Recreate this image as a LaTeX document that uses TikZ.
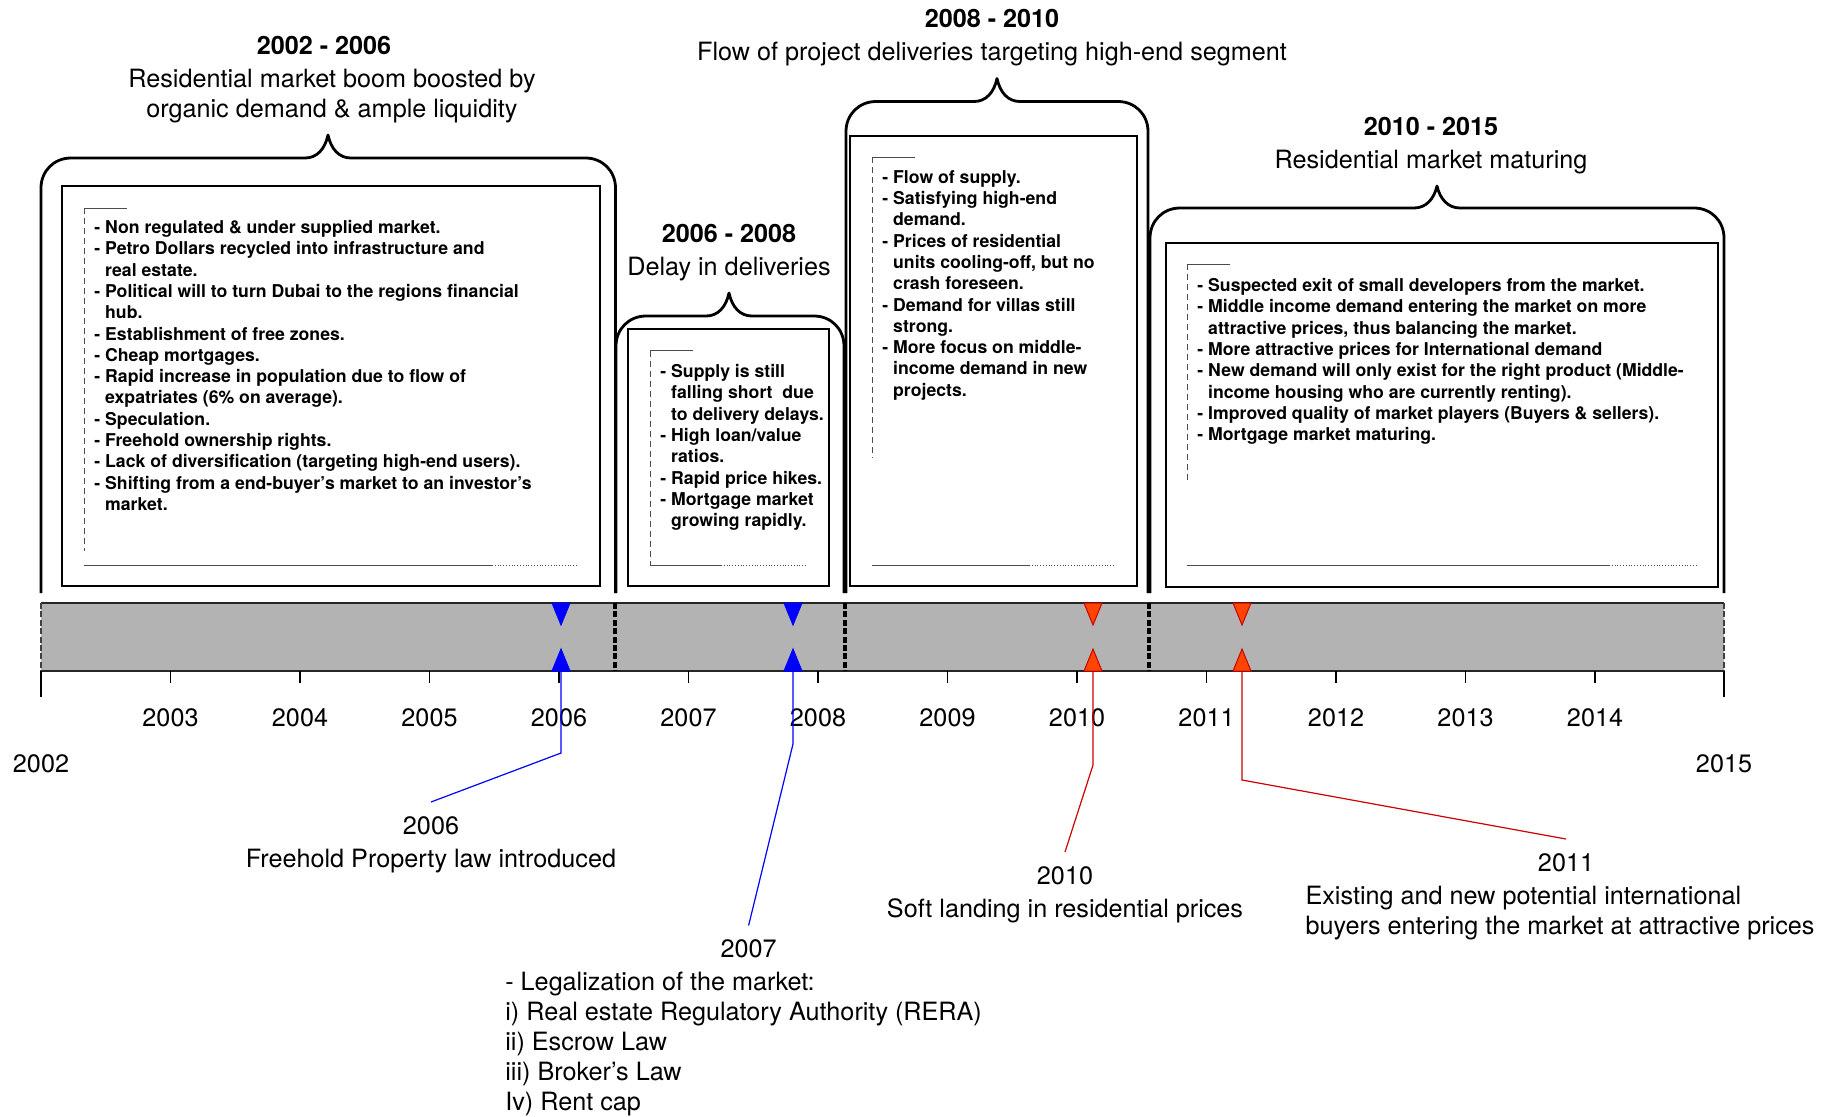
\documentclass[tikz,border=0pt]{standalone}
\usepackage{fontspec}
\setmainfont{TeX Gyre Heros}
\usetikzlibrary{positioning,calc}
\definecolor{tlGray}{HTML}{B3B3B3}
\definecolor{tlBlue}{HTML}{0000FF}
\definecolor{tlRed}{HTML}{CC0000}
\definecolor{tlOrange}{HTML}{FF4500}
\newcommand{\tlind}{\hphantom{- }}

\begin{document}
\begin{tikzpicture}[x=0.5pt,y=-0.5pt,
   pframe/.style={line width=1.4pt,line join=round},
   pbox/.style={line width=0.9pt},
   deco/.style={line width=0.4pt,draw=black!70},
   pnote/.style={anchor=north west,inner sep=0pt,align=left,
                 font=\fontsize{8.83}{10.65}\selectfont\bfseries},
   phead/.style={inner sep=0pt,align=center,font=\fontsize{12.6}{15}\selectfont},
   yr/.style={inner sep=0pt,font=\fontsize{12.6}{15}\selectfont},
   evlab/.style={inner sep=0pt,align=center,font=\fontsize{12.6}{15}\selectfont},
   evline/.style={line width=0.6pt},
   divider/.style={line width=1.6pt,dash pattern=on 3pt off 1.2pt},
   barline/.style={line width=0.9pt,draw=black!85},
   yeartick/.style={line width=0.6pt}]
  \useasboundingbox (0,0) rectangle (1837,1116);

  % period frames with a peak
  \foreach \xa/\xb/\yt/\xp/\yp in {41/615.5/158/328/135, 616/844/316/729/293,
                                   846/1148/101.5/997/78.5, 1150/1724/208/1437/186}
    \draw[pframe] (\xa,593) -- (\xa,\yt+30) .. controls (\xa,\yt+13) and (\xa+13,\yt) .. (\xa+30,\yt)
      -- (\xp-23,\yt) .. controls (\xp-11,\yt) and (\xp-3,\yt-9) .. (\xp,\yp)
      .. controls (\xp+3,\yt-9) and (\xp+11,\yt) .. (\xp+23,\yt)
      -- (\xb-30,\yt) .. controls (\xb-13,\yt) and (\xb,\yt+13) .. (\xb,\yt+30) -- (\xb,593);
  \coordinate (pk1) at (328,135);
  \coordinate (pk2) at (729,293);
  \coordinate (pk3) at (997,78.5);
  \coordinate (pk4) at (1437,186);

  % inner boxes
  \foreach \xa/\ya/\xb/\yb in {62/186/600/586, 628/329/829/586, 850/136/1137/586, 1166/243/1718/587}
    \draw[pbox] (\xa,\ya) rectangle (\xb,\yb);
  \foreach \xa/\ya/\ye/\xs/\xe in {84/208/551/492/578, 650/350.5/565/721/807,
                                   872/157/458/1029/1115, 1187/264/480/1609/1696} {
    \draw[deco] (\xa+43,\ya) -- (\xa,\ya);
    \draw[deco,densely dashed] (\xa,\ya) -- (\xa,\ye);
    \draw[deco] (\xa,565) -- (\xs,565);
    \draw[deco,densely dotted] (\xs,565) -- (\xe,565);
  }

  % headings
  \node[phead,above=6pt of pk1,xshift=2pt] (h1) {\textbf{2002 - 2006}\hspace*{8pt}\\[1.5pt]Residential market boom boosted by\\organic demand \& ample liquidity};
  \node[phead,above=6pt of pk2] (h2) {\textbf{2006 - 2008}\\[1.5pt]Delay in deliveries};
  \node[phead,above=6pt of pk3,xshift=-2.5pt] (h3) {\textbf{2008 - 2010}\\[1.5pt]Flow of project deliveries targeting high-end segment};
  \node[phead,above=6pt of pk4,xshift=-3pt] (h4) {\textbf{2010 - 2015}\\[1.5pt]Residential market maturing};

  % box texts
  \node[pnote] (n1) at (94,220) {- Non regulated \& under supplied market.\\
    - Petro Dollars recycled into infrastructure and\\\tlind real estate.\\
    - Political will to turn Dubai to the regions financial\\\tlind hub.\\
    - Establishment of free zones.\\
    - Cheap mortgages.\\
    - Rapid increase in population due to flow of\\\tlind expatriates (6\% on average).\\
    - Speculation.\\
    - Freehold ownership rights.\\
    - Lack of diversification (targeting high-end users).\\
    - Shifting from a end-buyer’s market to an investor’s\\\tlind market.};
  \node[pnote] (n2) at (660,364) {- Supply is still\\\tlind falling short~ due\\\tlind to delivery delays.\\
    - High loan/value\\\tlind ratios.\\
    - Rapid price hikes.\\
    - Mortgage market\\\tlind growing rapidly.};
  \node[pnote] (n3) at (882,170) {- Flow of supply.\\
    - Satisfying high-end\\\tlind demand.\\
    - Prices of residential\\\tlind units cooling-off, but no\\\tlind crash foreseen.\\
    - Demand for villas still\\\tlind strong.\\
    - More focus on middle-\\\tlind income demand in new\\\tlind projects.};
  \node[pnote] (n4) at (1197,278) {- Suspected exit of small developers from the market.\\
    - Middle income demand entering the market on more\\\tlind attractive prices, thus balancing the market.\\
    - More attractive prices for International demand\\
    - New demand will only exist for the right product (Middle-\\\tlind income housing who are currently renting).\\
    - Improved quality of market players (Buyers \& sellers).\\
    - Mortgage market maturing.};

  % timeline bar
  \fill[tlGray] (41,603) rectangle (1724,671);
  \draw[barline] (41,603) -- (1724,603);
  \draw[barline] (41,671) -- (1724,671);
  \foreach \x in {615,845,1149}
    \draw[divider] (\x,603) -- (\x,671);
  \foreach \x in {41,1724}
    \draw[divider,line width=1pt,draw=black!75] (\x,603) -- (\x,671);
  \foreach \yy [count=\k] in {2003,...,2014} {
    \draw[yeartick] ({41+129.5*\k},671) -- ++(0,12);
    \node[yr] (yr\yy) at ({41+129.5*\k},718) {\yy};
  }
  \draw[yeartick] (41,671) -- (41,697);
  \draw[yeartick] (1724,671) -- (1724,697);
  \node[yr] (yr2002) at (41,764) {2002};
  \node[yr] (yr2015) at (1724,764) {2015};

  % event markers
  \foreach \x/\f/\d/\n in {561/tlBlue/tlBlue/06, 793/tlBlue/tlBlue/07,
                           1093/tlOrange/tlRed/10, 1242/tlOrange/tlRed/11} {
    \filldraw[fill=\f,draw=\d,line width=0.5pt] (\x-9,603) -- (\x+9,603) -- (\x,625) -- cycle;
    \filldraw[fill=\f,draw=\d,line width=0.5pt] (\x-9,671) -- (\x+9,671) -- (\x,649) -- cycle;
    \coordinate (m\n) at (\x,671);
  }

  % events
  \coordinate (k06) at (561,753);
  \coordinate (t06) at (431,802);
  \draw[evline,tlBlue] (m06) -- (k06) -- (t06);
  \node[evlab,below=7pt of t06] (l06) {2006\\[1.5pt]Freehold Property law introduced};

  \coordinate (k07) at (793,744);
  \coordinate (t07) at (748.6,925.5);
  \draw[evline,tlBlue] (m07) -- (k07) -- (t07);
  \node[evlab,below=7pt of t07] (l07) {2007};
  \node[evlab,align=left,below=6.5pt of l07,xshift=-2.5pt] (d07) {- Legalization of the market:\\
    i) Real estate Regulatory Authority (RERA)\\ii) Escrow Law\\iii) Broker’s Law\\Iv) Rent cap};

  \coordinate (k10) at (1093,765);
  \coordinate (t10) at (1065,852);
  \draw[evline,tlRed] (m10) -- (k10) -- (t10);
  \node[evlab,below=7pt of t10] (l10) {2010\\[1.5pt]Soft landing in residential prices};

  \coordinate (k11) at (1242,780);
  \coordinate (t11) at (1566,839);
  \draw[evline,tlRed] (m11) -- (k11) -- (t11);
  \node[evlab,below=7pt of t11] (l11) {2011};
  \node[evlab,align=left,below=7pt of l11,xshift=-3pt] (d11) {Existing and new potential international\\
    buyers entering the market at attractive prices};
\end{tikzpicture}
\end{document}
